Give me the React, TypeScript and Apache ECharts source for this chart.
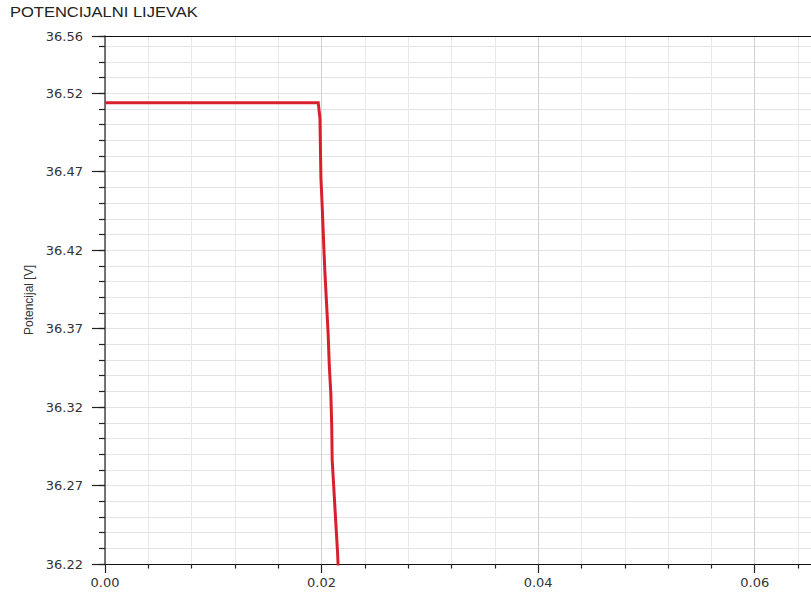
import React, { useEffect, useRef } from "react";
import * as echarts from "echarts";

const chartTitle = "POTENCIJALNI LIJEVAK";
const yAxisTitle = "Potencijal [V]";

// time [s]
const timeValues = [
  0, 0.01969, 0.01985, 0.01994, 0.02006, 0.02022, 0.02031, 0.02047, 0.02061,
  0.02071, 0.02086, 0.02094, 0.02098, 0.02114, 0.0213, 0.02148, 0.02155,
];
// potential [V]
const potentialValues = [
  36.514, 36.514, 36.504, 36.466, 36.4475, 36.42, 36.4055, 36.385, 36.366,
  36.347, 36.3277, 36.3073, 36.2863, 36.2672, 36.248, 36.227, 36.215,
];

const xMin = 0;
const xMax = 0.07;
const xInterval = 0.02;
const yMin = 36.22;
const yMax = 36.5565;
const yInterval = 0.05;
const yMinorInterval = 0.01;

export default function App() {
  const ref = useRef<HTMLDivElement>(null);

  useEffect(() => {
    if (!ref.current) return;
    const chart = echarts.init(ref.current, undefined, { renderer: "svg" });
    const data = timeValues.map((t, i) => [t, potentialValues[i]]);
    const labelStyle = {
      fontFamily: "DejaVu Sans",
      fontSize: 13,
      color: "#333",
    };
    chart.setOption({
      animation: false,
      backgroundColor: "#ffffff",
      graphic: [
        {
          type: "text",
          left: 10,
          top: 5,
          scaleX: 1.18,
          style: {
            text: chartTitle,
            font: "14px 'Liberation Sans', Arial, sans-serif",
            fill: "#222",
          },
        },
      ],
      grid: {
        left: 105,
        top: 36,
        width: 758,
        height: 528,
        containLabel: false,
        outerBoundsMode: "none",
      },
      xAxis: [
        {
          type: "value",
          min: xMin,
          max: xMax,
          interval: xInterval,
          position: "bottom",
          axisLine: { show: true, lineStyle: { color: "#111", width: 1.2 } },
          axisTick: { show: true, length: 9, lineStyle: { color: "#222", width: 1.2 } },
          minorTick: { show: true, splitNumber: 5, length: 4.5, lineStyle: { color: "#222", width: 1.2 } },
          axisLabel: {
            ...labelStyle,
            margin: 12,
            showMaxLabel: false,
            formatter: (v: number) => v.toFixed(2),
          },
          splitLine: { show: true, lineStyle: { color: "#cfcfcf", width: 1 } },
          minorSplitLine: { show: true, lineStyle: { color: "#e8e8e8", width: 1 } },
        },
        {
          type: "value",
          min: xMin,
          max: xMax,
          position: "top",
          axisLine: { show: true, onZero: false, lineStyle: { color: "#111", width: 1.2 } },
          axisTick: { show: false },
          axisLabel: { show: false },
          splitLine: { show: false },
        },
      ],
      yAxis: [
        {
          type: "value",
          min: yMin,
          max: yMax,
          interval: yInterval,
          position: "left",
          name: yAxisTitle,
          nameLocation: "middle",
          nameGap: 70,
          nameTextStyle: {
            fontFamily: "'Liberation Sans', Arial, sans-serif",
            fontSize: 12,
            color: "#333",
          },
          axisLine: { show: true, onZero: false, lineStyle: { color: "#555", width: 1.6 } },
          axisTick: { show: true, length: 13, lineStyle: { color: "#222", width: 1.2 } },
          axisLabel: { ...labelStyle, margin: 22, formatter: (v: number) => v.toFixed(2) },
          splitLine: { show: false },
        },
        {
          type: "value",
          min: yMin,
          max: yMax,
          interval: yMinorInterval,
          position: "left",
          axisLine: { show: false },
          axisTick: { show: true, length: 6, lineStyle: { color: "#222", width: 1.2 } },
          axisLabel: { show: false },
          splitLine: { show: true, lineStyle: { color: "#e3e3e3", width: 1 } },
        },
      ],
      series: [
        {
          type: "line",
          xAxisIndex: 0,
          yAxisIndex: 0,
          data,
          showSymbol: false,
          clip: true,
          lineStyle: { color: "#d81f2d", width: 3, join: "miter" },
          z: 5,
        },
      ],
    });
    return () => chart.dispose();
  }, []);

  return (
    <div
      ref={ref}
      style={{ position: "absolute", left: 0, top: 0, width: 811, height: 592, background: "#fff" }}
    />
  );
}
